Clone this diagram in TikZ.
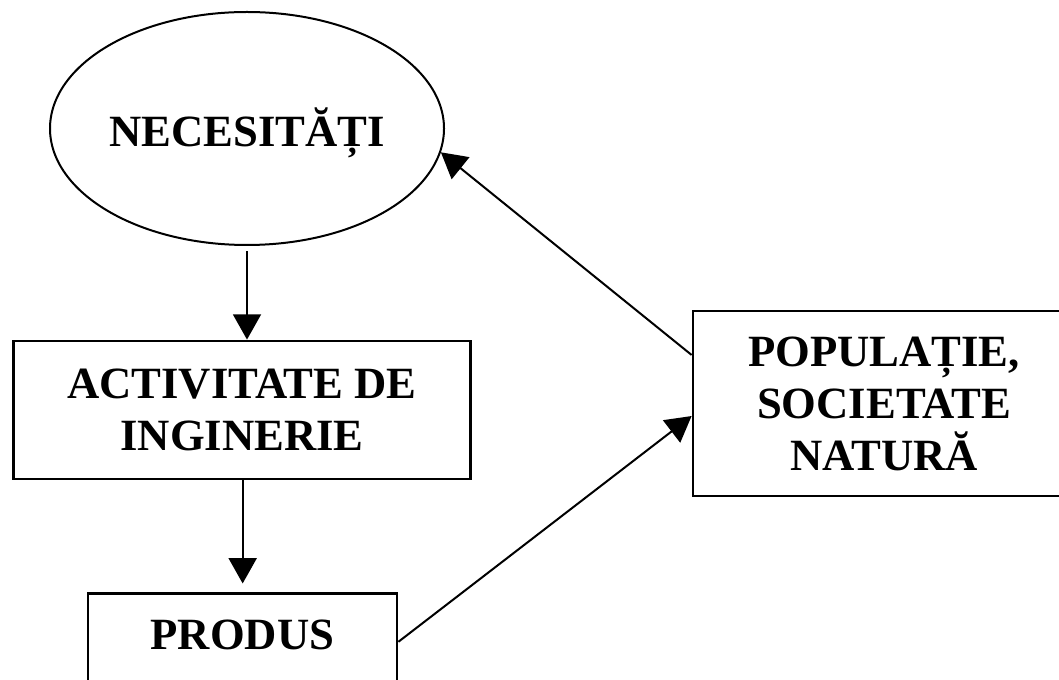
\documentclass[tikz,border=0pt]{standalone}
\usepackage{fontspec}
\setmainfont{Liberation Serif}
\usetikzlibrary{shapes.geometric,arrows.meta}

\begin{document}
\begin{tikzpicture}[x=0.75pt,y=-0.75pt,
  label text/.style={font=\bfseries\fontsize{33.5}{39}\selectfont, align=center, text=black},
  blockbox/.style={draw=black, line width=2.1pt, rectangle, inner sep=0pt, label text},
  oval/.style={draw=black, line width=1.5pt, ellipse, inner sep=0pt, label text},
  arr/.style={draw=black, line width=1.5pt, -{Triangle[length=19pt,width=21pt]}}]

  % page area
  \fill[white] (0,0) rectangle (1059,680);
  \useasboundingbox (0,0) rectangle (1059,680);

  % blocks of the cycle
  \node[oval, minimum width=295.5pt, minimum height=174.75pt, text height=27.75pt, text depth=0pt] (nec) at (247,128.5) {NECESITĂȚI};
  \node[blockbox, minimum width=343pt, minimum height=103.5pt] (act) at (242,410) {ACTIVITATE DE\\INGINERIE};
  \node[blockbox, minimum width=231.75pt, text height=41.6pt, text depth=38pt, anchor=base] (prod) at (242.5,649) {PRODUS};
  \node[blockbox, minimum width=286.5pt, minimum height=138.75pt] (pop) at (884,403.5) {POPULAȚIE,\\SOCIETATE\\NATURĂ};

  % connectors
  \draw[arr] ([yshift=-4pt]nec.south) -- (nec.south |- act.north);
  \draw[arr, shorten >=6.5pt] ([xshift=0.5pt]act.south) -- ([xshift=0.5pt]act.south |- prod.north);
  \draw[arr] ([yshift=3.6pt]prod.east) -- ([yshift=-9.4pt]pop.west);
  \draw[arr] ([yshift=36.4pt]pop.west) -- (nec.-7);
\end{tikzpicture}
\end{document}
